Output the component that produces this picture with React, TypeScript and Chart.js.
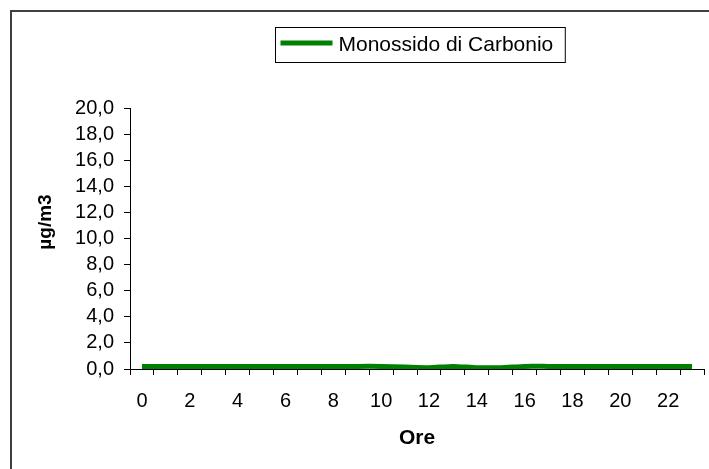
import React, { useEffect, useRef } from 'react';
import { Chart, registerables } from 'chart.js';

Chart.register(...registerables);

const categories = ['0', '1', '2', '3', '4', '5', '6', '7', '8', '9', '10', '11', '12', '13', '14', '15', '16', '17', '18', '19', '20', '21', '22', '23'];
const coValues = [0.2, 0.2, 0.2, 0.2, 0.2, 0.2, 0.2, 0.2, 0.2, 0.2, 0.2, 0.15, 0.1, 0.2, 0.1, 0.1, 0.2, 0.2, 0.2, 0.2, 0.2, 0.2, 0.2, 0.2];
const seriesLabel = 'Monossido di Carbonio';
const yTitle = 'µg/m3';
const xTitle = 'Ore';
const yMin = 0;
const yMax = 20;
const yStep = 2;

const FAMILY = '"Liberation Sans", Arial, Helvetica, sans-serif';

const framePlugin = {
  id: 'frameAndLegend',
  beforeDraw(chart: any) {
    const ctx = chart.ctx;
    ctx.save();
    ctx.fillStyle = '#ffffff';
    ctx.fillRect(0, 0, chart.width, chart.height);
    ctx.restore();
  },
  afterDraw(chart: any) {
    const ctx = chart.ctx;
    ctx.save();
    // outer frame
    ctx.strokeStyle = '#404040';
    ctx.lineWidth = 2;
    ctx.strokeRect(11, 11, chart.width + 40, chart.height + 40);

    // y-axis title
    ctx.save();
    ctx.translate(46, 222);
    ctx.rotate(-Math.PI / 2);
    ctx.font = `bold 19px ${FAMILY}`;
    ctx.fillStyle = '#000000';
    ctx.textAlign = 'center';
    ctx.textBaseline = 'middle';
    ctx.fillText(yTitle, 0, 0);
    ctx.restore();

    // legend
    const ds = chart.data.datasets[0];
    ctx.font = `21px ${FAMILY}`;
    const tw = ctx.measureText(ds.label).width;
    const boxW = 5 + 52 + 6 + tw + 12;
    const cx = 419.5;
    const left = Math.round(cx - boxW / 2) + 0.5;
    const top = 27.5;
    const boxH = 35;
    ctx.fillStyle = '#ffffff';
    ctx.fillRect(left, top, boxW, boxH);
    ctx.strokeStyle = '#000000';
    ctx.lineWidth = 1;
    ctx.strokeRect(left, top, boxW, boxH);
    ctx.strokeStyle = ds.borderColor;
    ctx.lineWidth = ds.borderWidth;
    ctx.beginPath();
    ctx.moveTo(left + 5, 43);
    ctx.lineTo(left + 57, 43);
    ctx.stroke();
    ctx.fillStyle = '#000000';
    ctx.textBaseline = 'alphabetic';
    ctx.textAlign = 'left';
    ctx.fillText(ds.label, left + 63, 51);
    ctx.restore();
  },
};

export default function App() {
  const ref = useRef<HTMLCanvasElement | null>(null);

  useEffect(() => {
    if (!ref.current) return;
    const chart = new Chart(ref.current, {
      type: 'line',
      data: {
        labels: categories,
        datasets: [
          {
            label: seriesLabel,
            data: coValues,
            borderColor: '#008000',
            backgroundColor: '#008000',
            borderWidth: 5,
            pointRadius: 0,
            tension: 0.2,
            fill: false,
          },
        ],
      },
      options: {
        responsive: false,
        animation: false,
        devicePixelRatio: 1,
        layout: { padding: { left: 25, top: 108, right: 5, bottom: 0 } },
        plugins: {
          legend: { display: false },
          tooltip: { enabled: false },
        },
        scales: {
          x: {
            type: 'category',
            offset: true,
            grid: { offset: true, drawOnChartArea: false, drawTicks: true, tickLength: 6, color: '#000000' },
            border: { display: true, color: '#000000', width: 1 },
            ticks: {
              autoSkip: false,
              maxRotation: 0,
              minRotation: 0,
              padding: 14,
              color: '#000000',
              font: { size: 20, family: FAMILY },
              callback: (_v: any, i: number) => (i % 2 === 0 ? categories[i] : ''),
            },
            title: {
              display: true,
              text: xTitle,
              color: '#000000',
              font: { size: 21, weight: 'bold', family: FAMILY },
              padding: { top: 0, bottom: 18 },
            },
            afterFit: (s: any) => {
              s.height = 100;
            },
          },
          y: {
            min: yMin,
            max: yMax,
            grid: { drawOnChartArea: false, drawTicks: true, tickLength: 6, color: '#000000' },
            border: { display: true, color: '#000000', width: 1 },
            ticks: {
              stepSize: yStep,
              autoSkip: false,
              padding: 10,
              color: '#000000',
              font: { size: 20, family: FAMILY },
              callback: (v: any) => Number(v).toFixed(1).replace('.', ','),
            },
            title: { display: false },
            afterFit: (s: any) => {
              s.width = 105;
            },
          },
        },
      } as any,
      plugins: [framePlugin],
    });
    return () => chart.destroy();
  }, []);

  return (
    <div style={{ position: 'fixed', left: 0, top: 0, width: 709, height: 469 }}>
      <canvas ref={ref} width={709} height={469} style={{ display: 'block' }} />
    </div>
  );
}
